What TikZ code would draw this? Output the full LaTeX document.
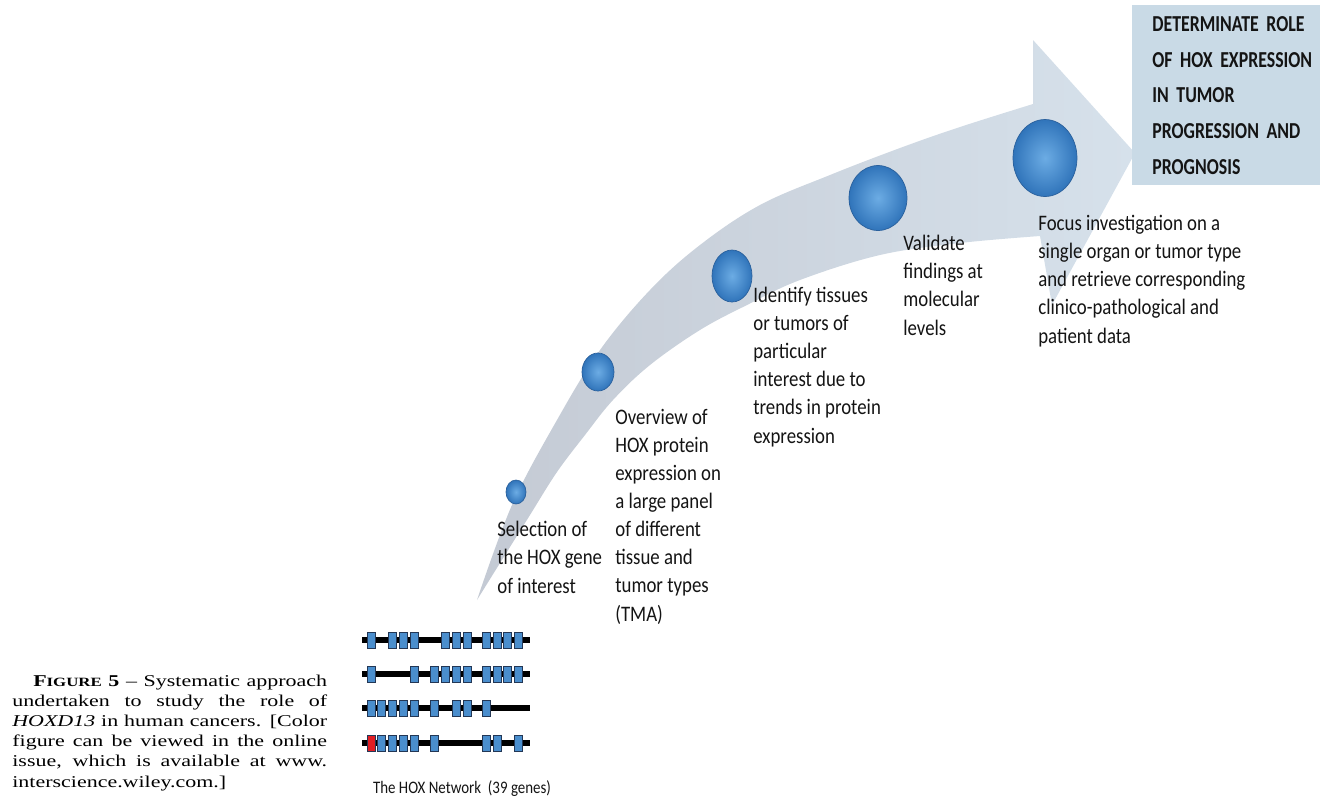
\documentclass[tikz,border=0pt]{standalone}
\usepackage{fontspec}
\setmainfont{Liberation Serif}
\newfontfamily\hoxfont[FakeStretch=0.85]{Carlito}
\newfontfamily\hoxgoalfont[FakeStretch=0.78, WordSpace=0.6]{Carlito}
\newfontfamily\hoxcapfont[FakeStretch=1.33, Ligatures=TeX]{Liberation Serif}
\usetikzlibrary{shapes.geometric}
\definecolor{hoxBlue}{RGB}{74,142,205}
\definecolor{hoxBlueLight}{RGB}{108,172,228}
\definecolor{hoxBlueDark}{RGB}{48,116,186}
\definecolor{hoxRim}{RGB}{42,96,156}
\definecolor{hoxArrowTail}{RGB}{196,202,212}
\definecolor{hoxArrowHead}{RGB}{214,225,235}
\definecolor{hoxGoal}{RGB}{201,218,230}
\definecolor{hoxInk}{RGB}{20,20,20}
\definecolor{hoxRed}{RGB}{225,30,35}
\definecolor{hoxGeneEdge}{RGB}{35,55,85}
\tikzset{
    hoxDot/.style={
        ellipse,
        inner sep=0pt,
        shade,
        inner color=hoxBlueLight,
        outer color=hoxBlueDark,
        draw=hoxRim,
        line width=0.4pt
    },
    hoxStep/.style={
        anchor=base west,
        inner sep=0pt,
        align=left,
        text=hoxInk,
        font={\hoxfont\fontsize{12.6}{16}\selectfont}
    },
    hoxGoalBox/.style={
        rectangle,
        anchor=north west,
        fill=hoxGoal,
        text=hoxInk,
        text width=3.4cm,
        minimum height=3.6cm,
        inner xsep=0.4cm,
        align=left,
        font={\hoxgoalfont\bfseries\fontsize{13}{20.3}\selectfont}
    },
    hoxLabel/.style={
        anchor=base,
        inner sep=0pt,
        text=hoxInk,
        font={\hoxfont\fontsize{10}{12}\selectfont}
    },
    % Gene cluster drawing
    hoxChrom/.style={line width=3.4pt, draw=black},
    hoxGene/.style={fill=hoxBlue, draw=hoxGeneEdge, line width=0.5pt},
    hoxRedGene/.style={hoxGene, fill=hoxRed}
}
\newcommand{\capline}[1]{\makebox[179.2pt][s]{#1}}
\begin{document}
\begin{tikzpicture}[x=0.02cm, y=-0.02cm]
    \useasboundingbox (0,0) rectangle (1320,799);

    % curved arrow
    \shade[left color=hoxArrowTail, right color=hoxArrowHead]
        plot[smooth, tension=0.6] coordinates {(477,600) (512,505) (557,420) (600,350) (650,290)
            (700,245) (760,205) (830,175) (900,148) (960,127) (1033,104)}
        -- (1033,40) -- (1135,153) -- (1052,305)
        -- plot[smooth, tension=0.6] coordinates {(1040,236) (960,243) (880,255) (800,280)
            (747,305) (700,330) (650,365) (613,400) (585,435) (557,472) (530,515) (505,555) (477,600)}
        -- cycle;

    \node[hoxDot, minimum width=0.40cm, minimum height=0.48cm] (dotA) at (516,492) {};
    \node[hoxDot, minimum width=0.64cm, minimum height=0.76cm] (dotB) at (598,372) {};
    \node[hoxDot, minimum width=0.80cm, minimum height=1.04cm] (dotC) at (732,276) {};
    \node[hoxDot, minimum width=1.16cm, minimum height=1.30cm] (dotD) at (878,198) {};
    \node[hoxDot, minimum width=1.28cm, minimum height=1.54cm] (dotE) at (1045,158) {};

    \node[hoxGoalBox] (goal) at (1132,5) {DETERMINATE ROLE\\OF HOX EXPRESSION\\IN TUMOR\\PROGRESSION AND\\PROGNOSIS};

    % last baselines of each step text
    \node[hoxStep] (select) at (497,593) {Selection of\\the HOX gene\\of interest};
    \node[hoxStep] (overview) at (615,621) {Overview of\\HOX protein\\expression on\\a large panel\\of different\\tissue and\\tumor types\\(TMA)};
    \node[hoxStep] (identify) at (753,443) {Identify tissues\\or tumors of\\particular\\interest due to\\trends in protein\\expression};
    \node[hoxStep] (validate) at (903,335) {Validate\\findings at\\molecular\\levels};
    \node[hoxStep] (focus) at (1038,343) {Focus investigation on a\\single organ or tumor type\\and retrieve corresponding\\clinico-pathological and\\patient data};

    % HOX clusters A-D
    \foreach \y/\slots in {640/{1,3,4,5,7,8,9,10,11,12,13}, 674/{1,5,6,7,8,9,10,11,12,13},
                           708/{1,2,3,4,5,6,8,9,10}, 743/{2,3,4,5,6,10,11,13}} {
        \draw[hoxChrom] (362,\y) -- (530,\y);
        \foreach \s in \slots {
            \pgfmathsetmacro\gx{{371,381,392,403,414,434,445,456,467,486,497,507,518}[\s-1]}
            \draw[hoxGene] (\gx-4,\y-8) rectangle (\gx+4,\y+8);
        }
    }
    \draw[hoxRedGene] (367,735) rectangle (375,751);
    \node[hoxLabel] (network) at (462,793) {The HOX Network\ \ (39 genes)};

    \node[anchor=base west, inner sep=0pt, align=left,
          font={\hoxcapfont\fontsize{9.4}{11.45}\selectfont}] (caption) at (12,787)
        {\capline{\hspace*{11.9pt}\textbf{F{\fontsize{7.2}{9}\selectfont IGURE} 5} \textendash{} Systematic approach}\\
         \capline{undertaken to study the role of}\\
         \capline{\textit{HOXD13} in human cancers. [Color}\\
         \capline{figure can be viewed in the online}\\
         \capline{issue, which is available at www.}\\
         interscience.wiley.com.]};
\end{tikzpicture}
\end{document}
